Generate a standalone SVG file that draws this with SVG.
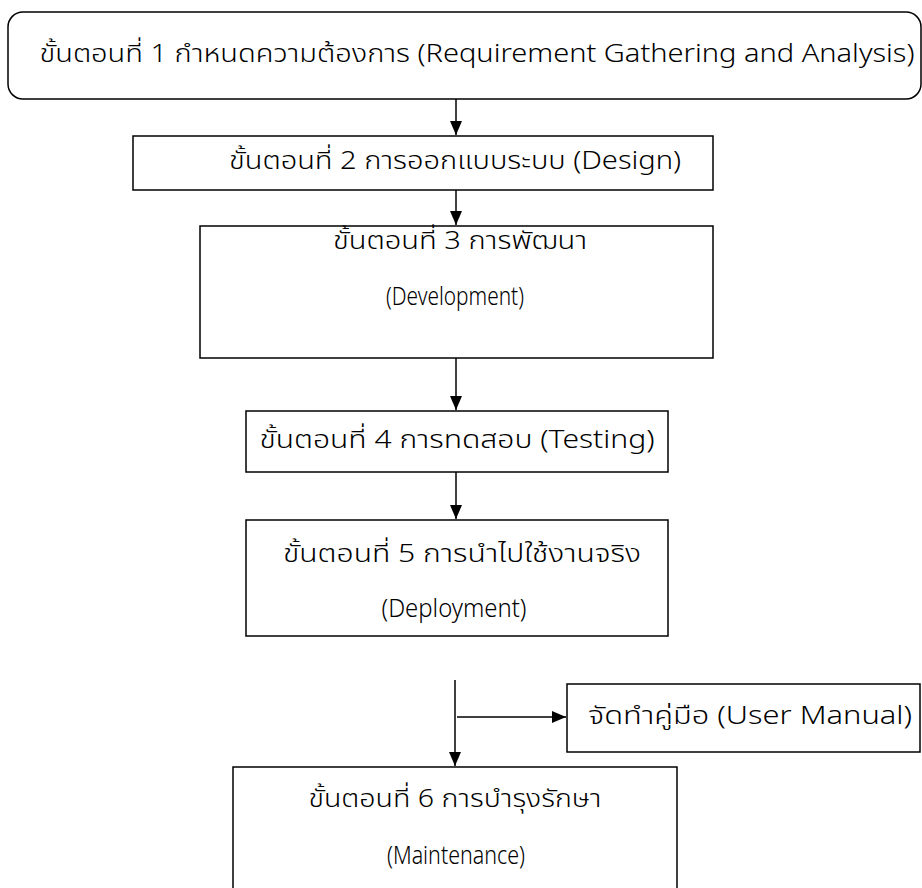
<svg xmlns="http://www.w3.org/2000/svg" width="922" height="888" viewBox="0 0 922 888">
<style>
.box{fill:#fff;stroke:#000;stroke-width:1.5}
.t{font-family:"Noto Sans Thai","Noto Sans","DejaVu Sans",sans-serif;font-size:25px;font-weight:300;fill:#000;text-anchor:middle;dominant-baseline:central}
.c{stroke:#000;stroke-width:1.5;fill:none;marker-end:url(#ah)}
</style>
<defs>
<marker id="ah" viewBox="0 0 14 12" refX="14" refY="6" markerWidth="14" markerHeight="12" markerUnits="userSpaceOnUse" orient="auto">
<path d="M0,0 L14,6 L0,12 Z" fill="#000"/>
</marker>
</defs>
<g id="connectors">
<line class="c" x1="456" y1="99" x2="456" y2="135"/>
<line class="c" x1="456" y1="190" x2="456" y2="225"/>
<line class="c" x1="456" y1="358" x2="456" y2="410"/>
<line class="c" x1="456" y1="472" x2="456" y2="519"/>
<line class="c" x1="455" y1="680" x2="455" y2="766"/>
<line class="c" x1="457" y1="717" x2="566" y2="717"/>
</g>
<g id="step1">
<rect class="box" x="8" y="12" width="913" height="87" rx="15"/>
<text class="t" x="477" y="54" textLength="875" lengthAdjust="spacingAndGlyphs">ขั้นตอนที่ 1 กำหนดความต้องการ (Requirement Gathering and Analysis)</text>
</g>
<g id="step2">
<rect class="box" x="133" y="136" width="580" height="54"/>
<text class="t" x="455" y="161" textLength="452" lengthAdjust="spacingAndGlyphs">ขั้นตอนที่ 2 การออกแบบระบบ (Design)</text>
</g>
<g id="step3">
<rect class="box" x="200" y="226" width="513" height="132"/>
<text class="t" x="460" y="241" textLength="254" lengthAdjust="spacingAndGlyphs">ขั้นตอนที่ 3 การพัฒนา</text>
<text class="t" x="455" y="297" textLength="138" lengthAdjust="spacingAndGlyphs">(Development)</text>
</g>
<g id="step4">
<rect class="box" x="246" y="411" width="422" height="61"/>
<text class="t" x="457" y="440" textLength="395" lengthAdjust="spacingAndGlyphs">ขั้นตอนที่ 4 การทดสอบ (Testing)</text>
</g>
<g id="step5">
<rect class="box" x="246" y="520" width="422" height="116"/>
<text class="t" x="462" y="554" textLength="358" lengthAdjust="spacingAndGlyphs">ขั้นตอนที่ 5 การนำไปใช้งานจริง</text>
<text class="t" x="454" y="609" textLength="145" lengthAdjust="spacingAndGlyphs">(Deployment)</text>
</g>
<g id="manual">
<rect class="box" x="567" y="684" width="353" height="68"/>
<text class="t" x="750" y="716" textLength="324" lengthAdjust="spacingAndGlyphs">จัดทำคู่มือ (User Manual)</text>
</g>
<g id="step6">
<rect class="box" x="233" y="767" width="444" height="125"/>
<text class="t" x="455" y="799" textLength="293" lengthAdjust="spacingAndGlyphs">ขั้นตอนที่ 6 การบำรุงรักษา</text>
<text class="t" x="456" y="856" textLength="138" lengthAdjust="spacingAndGlyphs">(Maintenance)</text>
</g>
</svg>
